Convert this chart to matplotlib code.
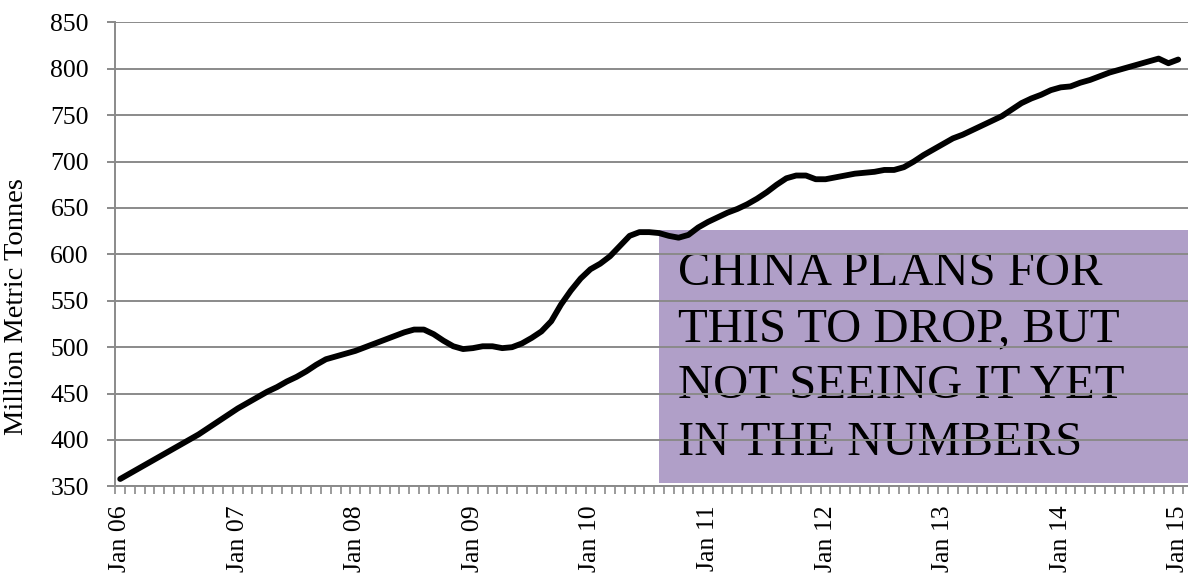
import matplotlib.pyplot as plt
from matplotlib.patches import Rectangle
import numpy as np

# monthly coal figures, Jan 2006 .. Jan 2015 (million metric tonnes)
y2006 = [358, 364, 370, 376, 382, 388, 394, 400, 406, 413, 420, 427]
y2007 = [434, 440, 446, 452, 457, 463, 468, 474, 481, 487, 490, 493]
y2008 = [496, 500, 504, 508, 512, 516, 519, 519, 514, 507, 501, 498]
y2009 = [499, 501, 501, 499, 500, 504, 510, 517, 528, 546, 561, 574]
y2010 = [584, 590, 598, 609, 620, 624, 624, 623, 620, 618, 621, 629]
y2011 = [635, 640, 645, 649, 654, 660, 667, 675, 682, 685, 685, 681]
y2012 = [681, 683, 685, 687, 688, 689, 691, 691, 694, 700, 707, 713]
y2013 = [719, 725, 729, 734, 739, 744, 749, 756, 763, 768, 772, 777]
y2014 = [780, 781, 785, 788, 792, 796, 799, 802, 805, 808, 811, 806]
y2015 = [810]

values = y2006 + y2007 + y2008 + y2009 + y2010 + y2011 + y2012 + y2013 + y2014 + y2015
years = ["06", "07", "08", "09", "10", "11", "12", "13", "14", "15"]
tick_labels = ["Jan " + y for y in years]
ylabel = "Million Metric Tonnes"
note_lines = ["CHINA PLANS FOR", "THIS TO DROP, BUT", "NOT SEEING IT YET", "IN THE NUMBERS"]

W, H = 1188, 578
plt.rcParams['font.family'] = ['Liberation Serif', 'DejaVu Serif']

fig = plt.figure(figsize=(W / 100, H / 100), dpi=100)
ax = fig.add_axes([115.3 / W, 1 - 486.4 / H, (W - 115.3) / W, (486.4 - 22.4) / H])
ax.patch.set_alpha(0)

grey = "#8a8a8a"

# note box sits behind the grid, like in the original
fig.add_artist(Rectangle((659 / W, 1 - 483 / H), (W - 659) / W, (483 - 230) / H,
                         transform=fig.transFigure, facecolor="#b09fc8",
                         edgecolor="none", zorder=-2))
for k, line in enumerate(note_lines):
    fig.text(678 / W, 1 - (285 + 56.7 * k) / H, line, fontsize=35,
             va="baseline", ha="left", color="black", zorder=-1)

x = np.arange(len(values))
ax.plot(x, values, color="black", lw=4.2, solid_capstyle="round",
        solid_joinstyle="round", zorder=5)

ax.set_ylim(350, 850)
ax.set_yticks(np.arange(350, 851, 50))
ax.set_xlim(-0.5, 109.0)
ax.set_xticks(np.arange(0, len(values), 12))
ax.set_xticklabels(tick_labels, rotation=90)
ax.set_xticks(np.arange(-0.5, len(values), 1), minor=True)

ax.grid(axis="y", color=grey, lw=1.4, zorder=1)
ax.set_axisbelow(False)
for s in ["top", "right"]:
    ax.spines[s].set_visible(False)
for s in ["left", "bottom"]:
    ax.spines[s].set_color(grey)
    ax.spines[s].set_linewidth(1.4)

ax.tick_params(axis="y", length=6, width=1.4, color=grey, labelsize=18.5, pad=13)
ax.tick_params(axis="x", which="major", length=0, labelsize=18.5, pad=14)
ax.tick_params(axis="x", which="minor", length=6, width=1.2, color=grey)

fig.text(17 / W, 1 - 307 / H, ylabel, rotation=90, fontsize=20.5,
         ha="center", va="center")

fig.savefig("out.png", dpi=100)
